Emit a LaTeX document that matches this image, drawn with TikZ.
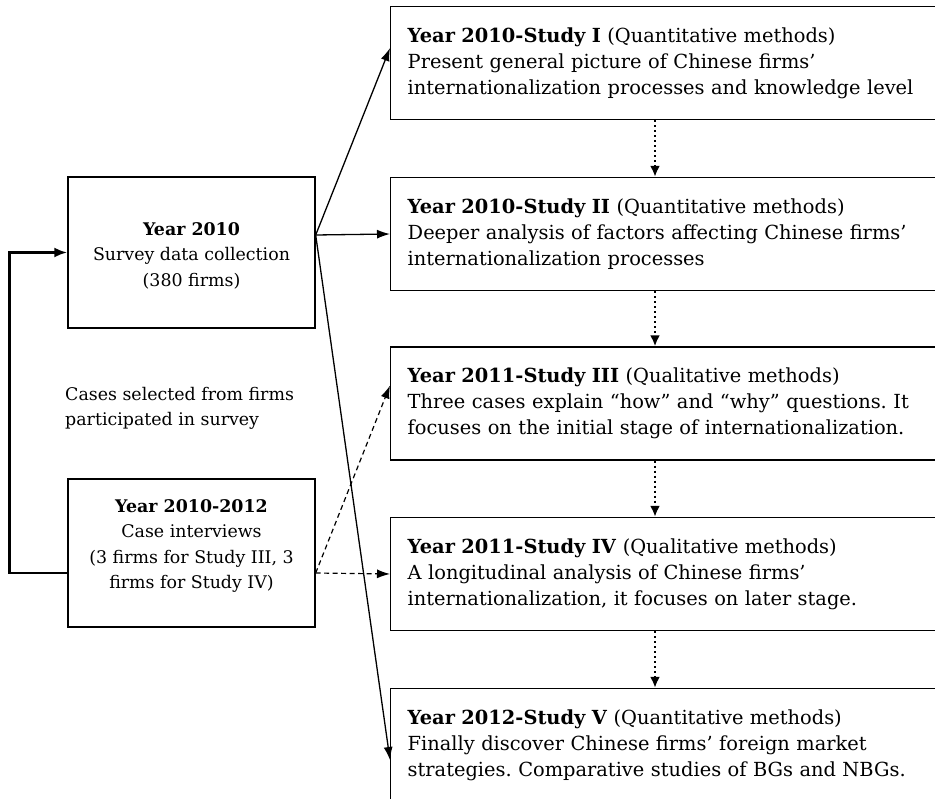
\documentclass[tikz,border=0pt]{standalone}
\usepackage{fontspec}
\setmainfont{DejaVu Serif}
\usetikzlibrary{arrows.meta}
\frenchspacing
\begin{document}
\begin{tikzpicture}[x=1pt,y=-1pt,
  ltxt/.style={font=\fontsize{17.4}{25.5}\selectfont, inner sep=0pt},
  rtxt/.style={font=\fontsize{19.4}{26}\selectfont},
  lbox/.style={draw, line width=1.4pt, minimum width=247pt, inner sep=0pt},
  rbox/.style={rtxt, draw, line width=1.4pt, minimum height=113pt, text width=530pt,
    inner xsep=17pt, inner ysep=0pt, align=left, anchor=west},
  solidarrow/.style={line width=1.3pt, -{Latex[length=13pt,width=9pt]}},
  dasharrow/.style={line width=1.2pt, dash pattern=on 5pt off 3.5pt, -{Latex[length=13pt,width=9pt]}},
  dotarrow/.style={line width=2.2pt, dash pattern=on 2pt off 3pt, -{Latex[length=11pt,width=10pt]}},
  thickline/.style={line width=2.6pt, -{Latex[length=13pt,width=10pt]}}
]
\useasboundingbox (0,0) rectangle (935,799);

% left boxes
\node[lbox, minimum height=151pt] (a) at (191.5,252.5) {};
\node[ltxt, align=center] (atext) at (191.5,255.5) {\textbf{Year 2010}\\Survey data collection\\(380 firms)};
\node[lbox, minimum height=148pt] (b) at (191.5,553) {};
\node[ltxt, align=center] (btext) at (191.5,546) {\textbf{Year 2010-2012}\\Case interviews\\(3 firms for Study III, 3\\firms for Study IV)};

\node[ltxt, align=left, anchor=west] (cases) at (65,408.5) {Cases selected from firms\\participated in survey};

% right boxes
\node[rbox] (s1) at (390,63) {\textbf{Year 2010-Study I} (Quantitative methods)\\Present general picture of Chinese firms’\\internationalization processes and knowledge level};
\node[rbox] (s2) at (390,234) {\textbf{Year 2010-Study II} (Quantitative methods)\\Deeper analysis of factors affecting Chinese firms’\\internationalization processes};
\node[rbox] (s3) at (390,403.5) {\textbf{Year 2011-Study III} (Qualitative methods)\\Three cases explain “how” and “why” questions. It\\focuses on the initial stage of internationalization.};
\node[rbox] (s4) at (390,574) {\textbf{Year 2011-Study IV} (Qualitative methods)\\A longitudinal analysis of Chinese firms’\\internationalization, it focuses on later stage.};
\node[rbox] (s5) at (390,745) {\textbf{Year 2012-Study V} (Quantitative methods)\\Finally discover Chinese firms’ foreign market\\strategies. Comparative studies of BGs and NBGs.};

% connectors from survey box
\coordinate (aout) at ([yshift=17.5pt]a.east);
\draw[solidarrow] (aout) -- ([yshift=15pt]s1.west);
\draw[solidarrow] (aout) -- (s2.west);
\draw[solidarrow] (aout) -- ([yshift=-15pt]s5.west);

% connectors from case box
\coordinate (bout) at ([yshift=-20pt]b.east);
\draw[dasharrow] (bout) -- ([yshift=18pt]s3.west);
\draw[dasharrow] (bout) -- (s4.west);

% feedback line
\draw[thickline] ([yshift=-20pt]b.west) -| ([xshift=-58pt]a.west) -- (a.west);

% dotted arrows between studies
\draw[dotarrow] ([xshift=265pt]s1.south west) -- ([xshift=265pt]s2.north west);
\draw[dotarrow] ([xshift=265pt]s2.south west) -- ([xshift=265pt]s3.north west);
\draw[dotarrow] ([xshift=265pt]s3.south west) -- ([xshift=265pt]s4.north west);
\draw[dotarrow] ([xshift=265pt]s4.south west) -- ([xshift=265pt]s5.north west);
\end{tikzpicture}
\end{document}
